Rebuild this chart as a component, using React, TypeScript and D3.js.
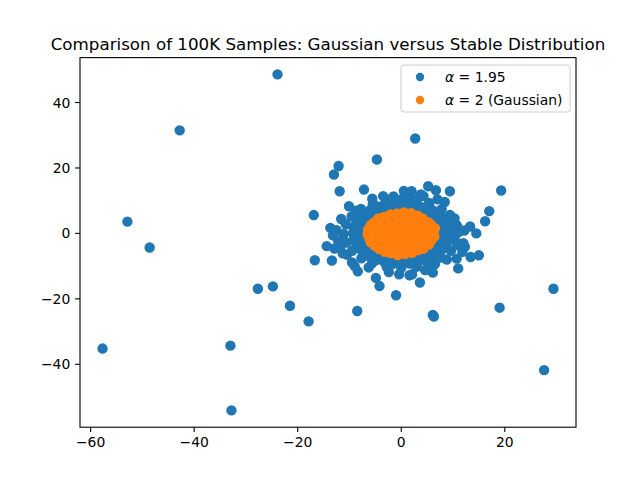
import * as d3 from 'd3';

// alpha = 1.95 samples (heavy tails)
const stableOutliers: [number, number][] = [
  [-23.9, 48.6], [-42.8, 31.5], [-52.9, 3.6], [-48.6, -4.3], [-57.7, -35.2],
  [-33.0, -34.3], [-32.8, -54.1], [-27.7, -16.9], [-24.8, -16.2], [-21.5, -22.1],
  [-17.9, -26.9], [-16.9, 5.6], [-16.7, -8.2], [2.7, 29.0], [19.3, 13.1],
  [17.0, 6.8], [16.2, 3.7], [29.4, -16.9], [19.0, -22.7], [6.1, -24.9],
  [6.3, -25.4], [27.6, -41.8], [-4.7, 22.6], [-12.1, 20.6], [-13.0, 18.0],
  [-11.9, 12.9], [-7.2, 13.4], [-8.5, -23.7], [-1.0, -18.9], [-4.2, -16.1],
  [3.6, -15.0], [9.4, 12.9], [5.2, 14.4], [6.7, 13.2], [2.0, 12.9],
  [0.5, 13.0], [11.0, -10.7],
];

const stableEdge: [number, number][] = [
  [-13.2, -0.6], [-13.7, 1.7], [-14.4, -3.9], [-12.9, -4.6], [-11.3, -6.1],
  [-9.5, -8.9], [-13.4, -8.3], [-8.8, 6.9], [-3.5, 11.4], [10.3, 4.6],
  [10.8, 2.2], [9.4, 5.6], [13.3, 2.1], [14.5, 0.0], [12.3, -4.1],
  [13.4, -7.2], [15.0, -6.7], [10.3, -1.6], [11.0, -3.6], [8.7, -2.1],
  [10.7, -7.7], [8.8, -8.0], [6.1, -9.1], [6.5, -9.4], [6.1, -12.0],
  [2.1, -12.5], [1.6, -12.8], [-0.4, -12.5], [-2.4, -11.8], [-8.4, -11.6],
  [-4.9, -13.6], [-12.2, -2.2], [-12.5, 1.0], [12.0, -3.0], [11.8, -5.6],
  [-10.5, -6.5], [4.3, 11.4], [-1.5, 11.3], [1.5, 11.6], [-11.8, -4.5],
  [3.8, 11.9], [-5.6, 10.6], [4.6, -11.2], [-6.3, -10.4], [-10.1, 8.3],
  [-11.6, 4.4], [8.4, 9.6], [7.0, 10.4], [-9.0, -10.0], [12.2, 0.9],
];

const stableCore: [number, number][] = [
  [7.6, 0.2], [7.5, 1.4], [7.2, 2.6], [6.5, 3.9], [5.9, 5.0], [4.8, 6.0],
  [3.8, 6.8], [2.6, 7.3], [1.3, 7.7], [0.1, 7.9], [-1.4, 7.6], [-2.6, 7.4],
  [-3.7, 6.7], [-4.9, 6.0], [-5.8, 5.0], [-6.6, 3.8], [-7.1, 2.7], [-7.5, 1.3],
  [-7.7, -0.1], [-7.4, -1.4], [-7.2, -2.6], [-6.6, -4.0], [-5.8, -5.0], [-4.9, -6.1],
  [-3.8, -6.7], [-2.5, -7.4], [-1.3, -7.7], [0.0, -7.9], [1.4, -7.6], [2.6, -7.3],
  [3.8, -6.8], [4.9, -5.9], [5.8, -5.1], [6.6, -3.8], [7.1, -2.7], [7.5, -1.3],
  [9.3, -0.2], [9.2, 1.6], [8.7, 3.3], [8.1, 4.6], [7.1, 6.1], [6.0, 7.2],
  [4.7, 8.1], [3.2, 8.8], [1.6, 9.3], [0.0, 9.4], [-1.6, 9.2], [-3.2, 8.9],
  [-4.6, 8.2], [-6.0, 7.2], [-7.1, 6.0], [-8.1, 4.7], [-8.7, 3.2], [-9.2, 1.6],
  [-9.3, 0.1], [-9.1, -1.6], [-8.7, -3.2], [-8.0, -4.7], [-7.1, -6.0], [-6.0, -7.2],
  [-4.7, -8.1], [-3.2, -8.9], [-1.6, -9.3], [0.1, -9.4], [1.6, -9.2], [3.2, -8.8],
  [4.6, -8.2], [6.0, -7.2], [7.1, -6.1], [8.0, -4.7], [8.7, -3.2], [9.2, -1.7],
  [11.0, 0.3], [10.6, 2.7], [9.5, 5.4], [7.8, 7.4], [5.4, 9.3], [2.9, 10.2],
  [0.2, 10.6], [-2.8, 10.3], [-5.5, 9.1], [-7.8, 7.5], [-9.6, 5.2], [-10.7, 2.8],
  [-11.1, -0.2], [-10.6, -2.8], [-9.5, -5.3], [-7.7, -7.6], [-5.6, -9.1], [-2.8, -10.3],
  [0.0, -10.5], [2.9, -10.2], [5.5, -9.2], [7.7, -7.4], [9.6, -5.3], [10.6, -2.8],
];

// alpha = 2 (Gaussian) samples, a tight blob
const gaussianPoints: [number, number][] = [
  [6.3, 0.4], [6.5, 1.6], [5.7, 2.7], [5.2, 3.4], [4.1, 4.6], [3.2, 5.4],
  [1.9, 6.2], [0.5, 6.4], [-0.8, 6.1], [-2.1, 5.8], [-3.3, 5.0], [-4.4, 4.6],
  [-5.2, 3.4], [-5.9, 2.5], [-6.4, 1.1], [-6.5, -0.4], [-6.1, -1.6], [-5.9, -2.7],
  [-5.1, -3.8], [-4.3, -4.7], [-3.2, -5.6], [-2.0, -6.0], [-0.7, -6.6], [0.7, -6.3],
  [2.1, -5.9], [3.3, -5.1], [4.3, -4.6], [5.3, -3.4], [5.8, -2.1], [6.4, -1.0],
  [4.6, 0.0], [4.4, 1.3], [3.7, 2.5], [2.7, 3.5], [1.4, 4.1], [0.0, 4.3],
  [-1.4, 4.1], [-2.7, 3.5], [-3.7, 2.5], [-4.4, 1.3], [-4.6, 0.0], [-4.4, -1.3],
  [-3.7, -2.5], [-2.7, -3.5], [-1.4, -4.1], [0.0, -4.3], [1.4, -4.1], [2.7, -3.5],
  [3.7, -2.5], [4.4, -1.3],
  [3.0, 0.0], [2.6, 1.35], [1.5, 2.3], [0.0, 2.7], [-1.5, 2.3], [-2.6, 1.35],
  [-3.0, 0.0], [-2.6, -1.35], [-1.5, -2.3], [0.0, -2.7], [1.5, -2.3], [2.6, -1.35],
  [1.4, 0.0], [0.7, 1.0], [-0.7, 1.0], [-1.4, 0.0], [-0.7, -1.0], [0.7, -1.0],
  [0.0, 0.0],
];

const xTicks = [-60, -40, -20, 0, 20];
const yTicks = [-40, -20, 0, 20, 40];

const title = 'Comparison of 100K Samples: Gaussian versus Stable Distribution';
const BLUE = '#1f77b4';
const ORANGE = '#ff7f0e';

const stablePoints = [...stableOutliers, ...stableEdge, ...stableCore];

export default function App() {
  const width = 640;
  const height = 480;
  const margin = { top: 57.6, right: 64, bottom: 52.8, left: 80 };
  const innerW = width - margin.left - margin.right;
  const innerH = height - margin.top - margin.bottom;

  // matplotlib style autoscale: data extent plus 5% on each side
  const all = [...stablePoints, ...gaussianPoints];
  const [x0, x1] = d3.extent(all, (d) => d[0]) as [number, number];
  const [y0, y1] = d3.extent(all, (d) => d[1]) as [number, number];
  const px = (x1 - x0) * 0.05;
  const py = (y1 - y0) * 0.05;

  const x = d3.scaleLinear().domain([x0 - px, x1 + px]).range([0, innerW]);
  const y = d3.scaleLinear().domain([y0 - py, y1 + py]).range([innerH, 0]);
  const fmt = d3.format('d');

  const r = 4.17;
  const edge = 2.08;

  return (
    <svg
      width={width}
      height={height}
      style={{ position: 'absolute', left: 0, top: 0, background: '#fff' }}
      fontFamily="DejaVu Sans, sans-serif"
    >
      <rect width={width} height={height} fill="#fff" />
      <text x={margin.left + innerW / 2} y={50} textAnchor="middle" fontSize={16.7} fill="#000">
        {title}
      </text>
      <g transform={`translate(${margin.left},${margin.top})`}>
        <g>
          {stablePoints.map((d, i) => (
            <circle key={`s${i}`} cx={x(d[0])} cy={y(d[1])} r={r} fill={BLUE} stroke={BLUE} strokeWidth={edge} />
          ))}
        </g>
        <g>
          {gaussianPoints.map((d, i) => (
            <circle key={`g${i}`} cx={x(d[0])} cy={y(d[1])} r={r} fill={ORANGE} stroke={ORANGE} strokeWidth={edge} />
          ))}
        </g>

        {/* spines */}
        <rect x={0} y={0} width={innerW} height={innerH} fill="none" stroke="#000" strokeWidth={1.1} />

        {/* x axis */}
        {xTicks.map((t) => (
          <g key={`xt${t}`} transform={`translate(${x(t)},${innerH})`}>
            <line y2={4.86} stroke="#000" strokeWidth={1.1} />
            <text y={19.8} textAnchor="middle" fontSize={13.9} fill="#000">
              {fmt(t)}
            </text>
          </g>
        ))}

        {/* y axis */}
        {yTicks.map((t) => (
          <g key={`yt${t}`} transform={`translate(0,${y(t)})`}>
            <line x2={-4.86} stroke="#000" strokeWidth={1.1} />
            <text x={-9.7} dy="0.36em" textAnchor="end" fontSize={13.9} fill="#000">
              {fmt(t)}
            </text>
          </g>
        ))}
      </g>

      {/* legend */}
      <g>
        <rect x={401} y={65} width={169} height={47} rx={2.8} fill="#fff" fillOpacity={0.8} stroke="#cccccc" strokeWidth={1} />
        <circle cx={420} cy={77} r={4.2} fill={BLUE} />
        <circle cx={420} cy={100} r={4.2} fill={ORANGE} />
        <text x={445} y={82} fontSize={13.9} fill="#000">
          <tspan fontStyle="italic">α</tspan> = 1.95
        </text>
        <text x={445} y={105} fontSize={13.9} fill="#000">
          <tspan fontStyle="italic">α</tspan> = 2 (Gaussian)
        </text>
      </g>
    </svg>
  );
}
